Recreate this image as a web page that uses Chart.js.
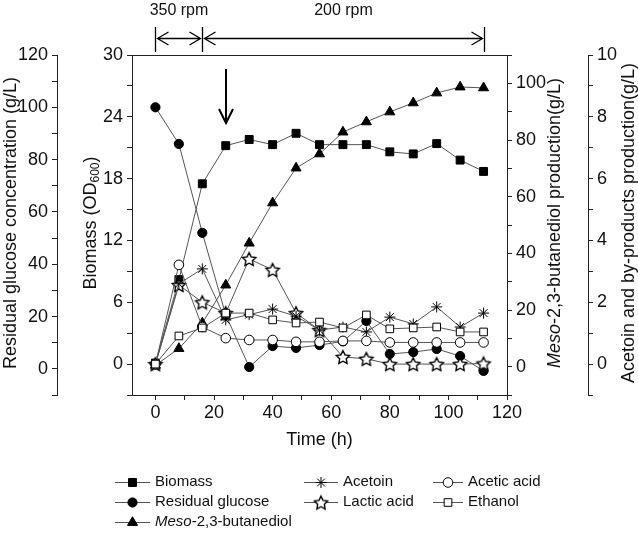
<!DOCTYPE html>
<html lang="en">
<head>
<meta charset="UTF-8">
<title>Fed-batch fermentation profile</title>
<script src="https://cdn.jsdelivr.net/npm/chart.js"></script>
<style>
    * { margin: 0; padding: 0; box-sizing: border-box; }
    body { background: #fff; width: 638px; height: 536px; overflow: hidden; }
    canvas { display: block; }
</style>
</head>
<body>
<canvas id="ferment-chart" width="638" height="536"></canvas>
<script>
// ---- data ----
var time     = [0, 8, 16, 24, 32, 40, 48, 56, 64, 72, 80, 88, 96, 104, 112];
var biomass  = [0.1, 8.2, 17.5, 21.2, 21.8, 21.3, 22.4, 21.3, 21.3, 21.3, 20.6, 20.4, 21.4, 19.8, 18.7];
var glucose  = [100, 86, 52, 20.6, 0.7, 8.7, 8.0, 9.1, 10.5, 18.3, 5.7, 6.4, 7.6, 4.9, -0.8];
var meso     = [0.5, 6.4, 15.4, 28.8, 43.6, 57.8, 70.1, 75.1, 82.8, 86.4, 89.9, 93.1, 96.6, 98.7, 98.4];
var acetoin  = [0, 2.6, 3.08, 1.43, 1.6, 1.78, 1.55, 1.1, 1.2, 1.04, 1.52, 1.3, 1.85, 1.2, 1.65];
var lactic   = [0, 2.56, 2.0, 1.65, 3.4, 3.05, 1.65, 1.1, 0.23, 0.17, 0, 0, 0, 0, 0.02];
var acetic   = [0, 3.21, 1.2, 0.84, 0.78, 0.78, 0.72, 0.72, 0.75, 0.75, 0.7, 0.7, 0.7, 0.7, 0.7];
var ethanol  = [0, 0.91, 1.17, 1.65, 1.65, 1.43, 1.33, 1.36, 1.17, 1.59, 1.14, 1.17, 1.2, 1.04, 1.04];

// ticks (all tick marks / the ones that carry a label)
var timeTicks     = [0, 10, 20, 30, 40, 50, 60, 70, 80, 90, 100, 110, 120];
var timeLabels    = [0, 20, 40, 60, 80, 100, 120];
var glucoseTicks  = [-10, 0, 10, 20, 30, 40, 50, 60, 70, 80, 90, 100, 110, 120];
var glucoseLabels = [0, 20, 40, 60, 80, 100, 120];
var biomassTicks  = [-3, 0, 3, 6, 9, 12, 15, 18, 21, 24, 27, 30];
var biomassLabels = [0, 6, 12, 18, 24, 30];
var mesoTicks     = [-10, 0, 10, 20, 30, 40, 50, 60, 70, 80, 90, 100, 110];
var mesoLabels    = [0, 20, 40, 60, 80, 100];
var byprodTicks   = [-1, 0, 1, 2, 3, 4, 5, 6, 7, 8, 9, 10];
var byprodLabels  = [0, 2, 4, 6, 8, 10];

// agitation phases marked above the plot
var rpmMarks  = [0, 16, 112];
var rpmText   = ['350 rpm', '200 rpm'];
var arrowTime = 24;

var FONT = '"Liberation Sans", Arial, sans-serif';
var INK = '#111';
var AXIS = '#222';
var LINE = '#555';

// open five-pointed star used for lactic acid
function makeStar(r) {
    var s = Math.ceil(r * 2 + 4);
    var c = document.createElement('canvas');
    c.width = s; c.height = s;
    var g = c.getContext('2d');
    g.translate(s / 2, s / 2 + r * 0.1);
    g.beginPath();
    for (var k = 0; k < 10; k++) {
        var rad = k % 2 ? r * 0.5 : r;
        var ang = -Math.PI / 2 + k * Math.PI / 5;
        g.lineTo(rad * Math.cos(ang), rad * Math.sin(ang));
    }
    g.closePath();
    g.fillStyle = '#fff'; g.fill();
    g.strokeStyle = '#000'; g.lineWidth = 1.4; g.stroke();
    return c;
}
var starImg = makeStar(7);

function series(label, values, axis, style, fill) {
    return {
        label: label,
        data: time.map(function (t, i) { return { x: t, y: values[i] }; }),
        yAxisID: axis,
        borderColor: LINE,
        borderWidth: 1,
        tension: 0,
        pointStyle: style.pointStyle,
        pointRadius: style.radius,
        pointHoverRadius: style.radius,
        pointBackgroundColor: fill,
        pointBorderColor: '#000',
        pointBorderWidth: 1,
        clip: false
    };
}

var styles = {
    biomass: { pointStyle: 'rect', radius: 5.6 },
    glucose: { pointStyle: 'circle', radius: 4.6 },
    meso:    { pointStyle: 'triangle', radius: 5.8 },
    acetoin: { pointStyle: 'star', radius: 5.5 },
    lactic:  { pointStyle: starImg, radius: 7 },
    acetic:  { pointStyle: 'circle', radius: 4.8 },
    ethanol: { pointStyle: 'rect', radius: 5.4 }
};

function yAxis(position, weight, width, min, max, ticks, labels) {
    return {
        type: 'linear',
        position: position,
        weight: weight,
        min: min,
        max: max,
        afterBuildTicks: function (a) { a.ticks = ticks.map(function (v) { return { value: v }; }); },
        afterFit: function (a) { a.width = width; },
        ticks: {
            autoSkip: false,
            padding: 4,
            color: INK,
            font: { family: FONT, size: 18 },
            callback: function (v) { return labels.indexOf(v) >= 0 ? String(v) : ''; }
        },
        grid: { drawOnChartArea: false, tickLength: 5, color: AXIS, lineWidth: 1 },
        border: { display: true, color: AXIS, width: 1 }
    };
}

function drawRotated(ctx, parts, cx, cy) {
    var total = 0;
    parts.forEach(function (p) { ctx.font = p.font; p.w = ctx.measureText(p.text).width; total += p.w; });
    ctx.save();
    ctx.translate(cx, cy);
    ctx.rotate(-Math.PI / 2);
    ctx.textBaseline = 'middle';
    ctx.textAlign = 'left';
    ctx.fillStyle = INK;
    var x = -total / 2;
    parts.forEach(function (p) {
        ctx.font = p.font;
        ctx.fillText(p.text, x, p.dy || 0);
        x += p.w;
    });
    ctx.restore();
}

var legendItems = [
    { col: 0, row: 0, key: 'biomass', fill: '#000', parts: [{ text: 'Biomass' }] },
    { col: 0, row: 1, key: 'glucose', fill: '#000', parts: [{ text: 'Residual glucose' }] },
    { col: 0, row: 2, key: 'meso', fill: '#000', parts: [{ text: 'Meso', italic: true }, { text: '-2,3-butanediol' }] },
    { col: 1, row: 0, key: 'acetoin', fill: '#fff', parts: [{ text: 'Acetoin' }] },
    { col: 1, row: 1, key: 'lactic', fill: '#fff', parts: [{ text: 'Lactic acid' }] },
    { col: 2, row: 0, key: 'acetic', fill: '#fff', parts: [{ text: 'Acetic acid' }] },
    { col: 2, row: 1, key: 'ethanol', fill: '#fff', parts: [{ text: 'Ethanol' }] }
];
var legendCols = [{ x: 115, w: 35 }, { x: 304, w: 34 }, { x: 433, w: 30 }];
var legendRows = [482, 502, 522];

var decorations = {
    id: 'decorations',
    afterDraw: function (chart) {
        var ctx = chart.ctx;
        var area = chart.chartArea;
        var xs = chart.scales.x;
        ctx.save();

        // top edge of the frame
        ctx.strokeStyle = AXIS;
        ctx.lineWidth = 1;
        ctx.beginPath();
        ctx.moveTo(area.left, Math.round(area.top) + 0.5);
        ctx.lineTo(area.right, Math.round(area.top) + 0.5);
        ctx.stroke();

        // agitation bars and arrows
        var px = rpmMarks.map(function (t) { return Math.round(xs.getPixelForValue(t)) + 0.5; });
        ctx.strokeStyle = '#000';
        ctx.lineWidth = 1.3;
        ctx.beginPath();
        px.forEach(function (x) { ctx.moveTo(x, 27); ctx.lineTo(x, 52); });
        for (var i = 0; i < px.length - 1; i++) {
            var a = px[i] + 2, b = px[i + 1] - 2, y = 38.5;
            ctx.moveTo(a, y); ctx.lineTo(b, y);
            ctx.moveTo(a + 11, y - 6.5); ctx.lineTo(a, y); ctx.lineTo(a + 11, y + 6.5);
            ctx.moveTo(b - 11, y - 6.5); ctx.lineTo(b, y); ctx.lineTo(b - 11, y + 6.5);
        }
        ctx.stroke();
        ctx.fillStyle = INK;
        ctx.font = '16px ' + FONT;
        ctx.textAlign = 'center';
        ctx.textBaseline = 'middle';
        for (var j = 0; j < rpmText.length; j++) {
            ctx.fillText(rpmText[j], (px[j] + px[j + 1]) / 2, 11);
        }

        // down arrow at the switch point
        var ax = Math.round(xs.getPixelForValue(arrowTime));
        ctx.lineWidth = 2;
        ctx.beginPath();
        ctx.moveTo(ax, 69); ctx.lineTo(ax, 122);
        ctx.moveTo(ax - 7, 109); ctx.lineTo(ax, 123); ctx.lineTo(ax + 7, 109);
        ctx.stroke();

        // axis titles
        var f = '18px ' + FONT;
        var cy = (area.top + area.bottom) / 2 - 2;
        drawRotated(ctx, [{ text: 'Residual glucose concentration (g/L)', font: f }], 11, cy);
        drawRotated(ctx, [
            { text: 'Biomass (OD', font: f },
            { text: '600', font: '12px ' + FONT, dy: 5 },
            { text: ')', font: f }
        ], 91, cy);
        drawRotated(ctx, [
            { text: 'Meso', font: 'italic ' + f },
            { text: '-2,3-butanediol production(g/L)', font: f }
        ], 555, cy);
        drawRotated(ctx, [{ text: 'Acetoin and by-products production(g/L)', font: f }], 629, cy);

        // legend
        ctx.textAlign = 'left';
        ctx.textBaseline = 'middle';
        legendItems.forEach(function (it) {
            var col = legendCols[it.col];
            var y = legendRows[it.row] + 0.5;
            ctx.strokeStyle = LINE;
            ctx.lineWidth = 1;
            ctx.beginPath();
            ctx.moveTo(col.x, y); ctx.lineTo(col.x + col.w, y);
            ctx.stroke();
            var st = styles[it.key];
            ctx.fillStyle = it.fill;
            ctx.strokeStyle = '#000';
            ctx.lineWidth = 1;
            Chart.helpers.drawPoint(ctx, { pointStyle: st.pointStyle, radius: st.radius, rotation: 0, borderWidth: 1 }, col.x + col.w / 2, y);
            var tx = col.x + col.w + 5;
            ctx.fillStyle = INK;
            it.parts.forEach(function (p) {
                ctx.font = (p.italic ? 'italic ' : '') + '15px ' + FONT;
                ctx.fillText(p.text, tx, legendRows[it.row]);
                tx += ctx.measureText(p.text).width;
            });
        });

        ctx.restore();
    }
};

var ctx = document.getElementById('ferment-chart').getContext('2d');
var chart = new Chart(ctx, {
    type: 'line',
    data: {
        datasets: [
            series('Ethanol', ethanol, 'yByprod', styles.ethanol, '#fff'),
            series('Acetic acid', acetic, 'yByprod', styles.acetic, '#fff'),
            series('Acetoin', acetoin, 'yByprod', styles.acetoin, '#fff'),
            series('Lactic acid', lactic, 'yByprod', styles.lactic, '#fff'),
            series('Biomass', biomass, 'yBiomass', styles.biomass, '#000'),
            series('Meso-2,3-butanediol', meso, 'yMeso', styles.meso, '#000'),
            series('Residual glucose', glucose, 'yGlucose', styles.glucose, '#000')
        ]
    },
    options: {
        responsive: false,
        animation: false,
        events: [],
        layout: { padding: { top: 55, bottom: 83, left: 0, right: 0 } },
        plugins: {
            legend: { display: false },
            tooltip: { enabled: false }
        },
        scales: {
            x: {
                type: 'linear',
                position: 'bottom',
                min: -8,
                max: 120,
                afterBuildTicks: function (a) { a.ticks = timeTicks.map(function (v) { return { value: v }; }); },
                afterFit: function (a) { a.height = 58; },
                ticks: {
                    autoSkip: false,
                    maxRotation: 0,
                    padding: 2,
                    color: INK,
                    font: { family: FONT, size: 18 },
                    callback: function (v) { return timeLabels.indexOf(v) >= 0 ? String(v) : ''; }
                },
                grid: { drawOnChartArea: false, tickLength: 5, color: AXIS, lineWidth: 1 },
                border: { display: true, color: AXIS, width: 1 },
                title: {
                    display: true,
                    text: 'Time (h)',
                    color: INK,
                    font: { family: FONT, size: 18 },
                    padding: { top: 2, bottom: 2 }
                }
            },
            yGlucose: yAxis('left', 2, 57, -10, 120, glucoseTicks, glucoseLabels),
            yBiomass: yAxis('left', 1, 75, -3, 30, biomassTicks, biomassLabels),
            yMeso: yAxis('right', 1, 81, -10, 110, mesoTicks, mesoLabels),
            yByprod: yAxis('right', 2, 50, -1, 10, byprodTicks, byprodLabels)
        }
    },
    plugins: [decorations]
});
</script>
</body>
</html>
